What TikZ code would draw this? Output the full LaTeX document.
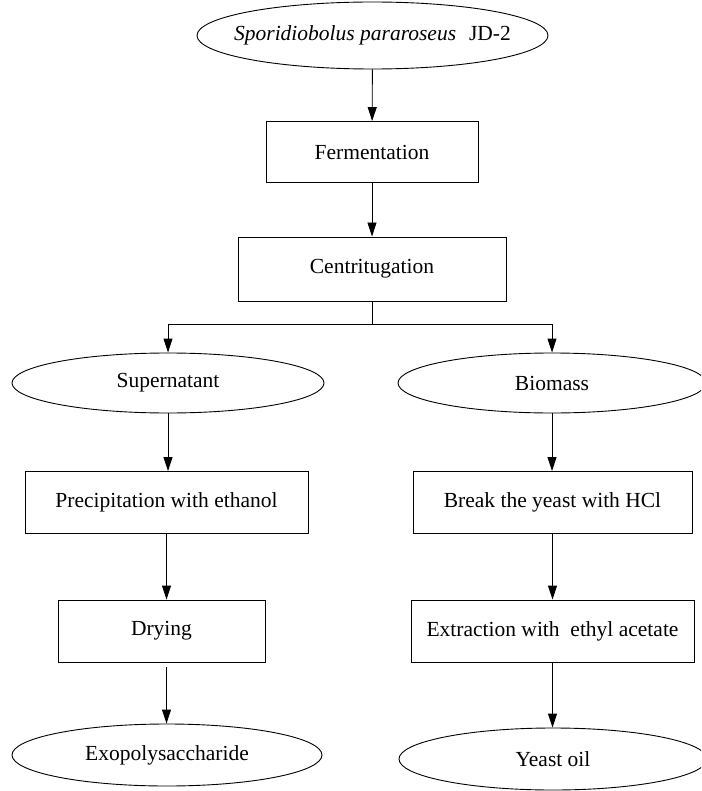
\documentclass[tikz,border=0pt]{standalone}
\usepackage{fontspec}
\setmainfont{Liberation Serif}
\usetikzlibrary{shapes.geometric,arrows.meta}
\begin{document}
\begin{tikzpicture}[x=1pt,y=-1pt,
  every node/.style={font=\fontsize{21.5}{25}\selectfont, inner sep=0pt},
  procbox/.style={draw, line width=0.9pt, rectangle, minimum width=#1},
  oval/.style={draw, line width=0.9pt, ellipse, inner xsep=-60pt, inner ysep=-10pt},
  conn/.style={line width=0.9pt, -{Triangle[length=14pt,width=9pt]}},
  line/.style={line width=0.9pt}]
\useasboundingbox (0,0) rectangle (701,791);
\clip (0,0) rectangle (701,791);
\node[oval, minimum width=351pt, minimum height=67pt] (src) at (372.5,35.5) {\textit{Sporidiobolus pararoseus}\hspace{0.6em}JD-2};
\node[procbox=212pt, minimum height=61pt] (ferm) at (372,152) {Fermentation};
\node[procbox=268pt, minimum height=64pt] (cent) at (372,269) {Centritugation};
\coordinate (split) at (372,324);
\node[oval, minimum width=312pt, minimum height=60pt] (sup) at (168,383) {Supernatant};
\node[oval, minimum width=308pt, minimum height=60pt] (bio) at (552,383) {Biomass};
\node[procbox=283pt, minimum height=62pt] (prec) at (166.5,502.5) {Precipitation with ethanol};
\node[procbox=279pt, minimum height=62pt] (brk) at (552.5,502.5) {Break the yeast with HCl};
\node[procbox=207pt, minimum height=62pt] (dry) at (161.5,631) {Drying};
\node[procbox=283pt, minimum height=62pt] (ext) at (552.5,631) {Extraction with \ ethyl acetate};
\node[oval, minimum width=310pt, minimum height=62pt] (exo) at (167,755) {Exopolysaccharide};
\node[oval, minimum width=308pt, minimum height=62pt] (oil) at (553,759) {Yeast oil};
\draw[conn] (src) -- (ferm);
\draw[conn] (ferm) -- (cent);
\draw[line] (cent.south) -- (split);
\draw[conn] (split) -| (sup.north);
\draw[conn] (split) -| (bio.north);
\draw[conn] (sup) -- (sup |- prec.north);
\draw[conn] (bio) -- (bio |- brk.north);
\draw[conn] (prec.south) -- (prec.south |- dry.north);
\draw[conn] (brk.south) -- (ext.north -| brk.south);
\draw[conn, shorten <=5pt] (dry.south -| prec.south) -- (exo.north -| prec.south);
\draw[conn] (ext.south) -- (ext.south |- oil.north);
\end{tikzpicture}
\end{document}
